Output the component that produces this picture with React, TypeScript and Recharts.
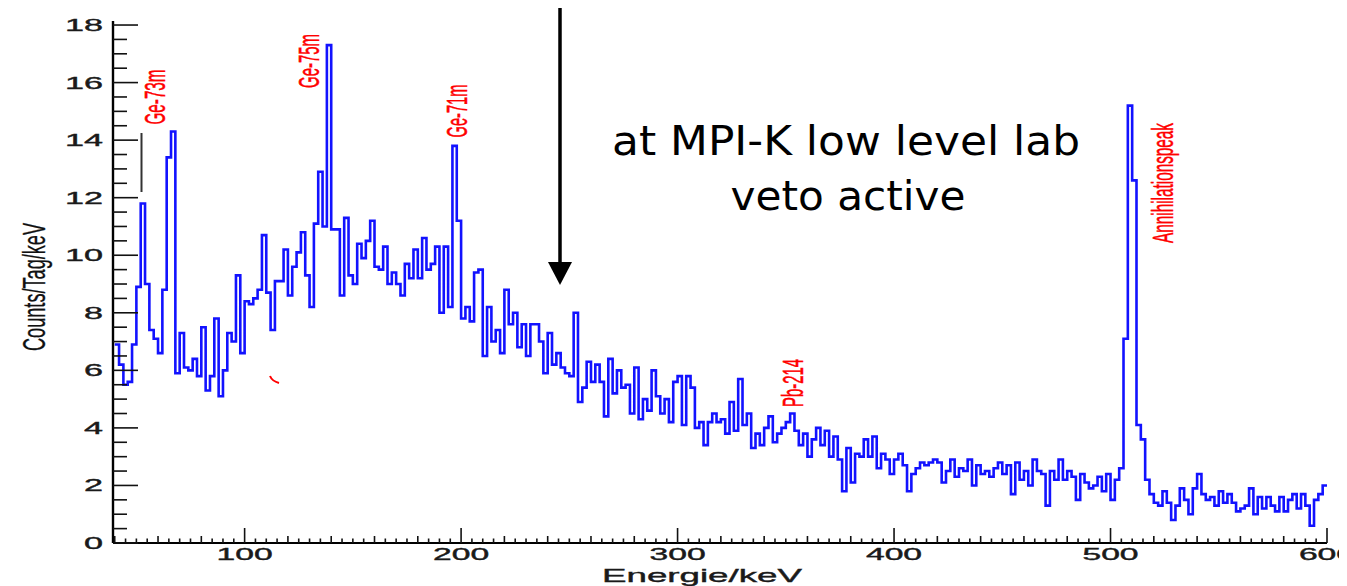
import React from "react";
import { LineChart, Line, XAxis, YAxis } from "recharts";

// Energy binning of the spectrum (keV)
const BIN_START = 40;
const BIN_WIDTH = 2;
const X_END = 600;

// Counts/Tag/keV per 2 keV bin, 40 ... 598 keV
const counts = [
  6.9, 6.2, 5.5, 5.6, 6.9, 8.9, 11.8, 9.0, 7.4, 7.1, // 40
  6.6, 8.8, 13.4, 14.3, 5.9, 7.3, 6.1, 6.0, 6.4, 5.8, // 60
  7.5, 5.3, 5.8, 7.8, 5.1, 6.0, 7.3, 7.0, 9.3, 6.6, // 80
  8.4, 8.3, 8.5, 8.8, 10.7, 8.7, 7.4, 9.1, 9.1, 10.2, // 100
  8.6, 9.6, 10.1, 10.8, 9.3, 8.2, 11.1, 12.9, 11.0, 17.3, // 120
  10.9, 10.9, 8.6, 11.3, 9.3, 9.0, 10.4, 9.9, 10.5, 11.2, // 140
  9.6, 9.5, 10.3, 9.0, 9.4, 9.0, 8.6, 9.7, 9.2, 10.2, // 160
  9.2, 10.6, 9.5, 9.7, 10.3, 8.0, 10.3, 8.2, 13.8, 11.2, // 180
  7.8, 8.2, 7.7, 9.4, 9.5, 6.5, 8.2, 7.0, 7.4, 6.6, // 200
  8.8, 7.6, 8.0, 6.8, 7.6, 6.5, 7.6, 7.6, 7.0, 5.9, // 220
  7.3, 6.2, 6.6, 6.1, 5.9, 5.8, 8.0, 4.9, 5.4, 6.3, // 240
  5.6, 6.2, 5.6, 4.4, 6.4, 5.2, 6.0, 5.4, 5.5, 4.5, // 260
  6.1, 4.3, 5.0, 4.6, 6.0, 5.1, 4.5, 5.0, 4.2, 5.6, // 280
  5.8, 4.1, 5.8, 5.4, 4.0, 4.2, 3.4, 4.2, 4.5, 4.2, // 300
  4.3, 3.8, 4.9, 3.9, 5.7, 4.1, 4.5, 3.3, 3.8, 3.4, // 320
  4.0, 4.4, 3.5, 3.8, 4.0, 4.2, 4.5, 3.9, 3.4, 3.8, // 340
  3.0, 3.6, 4.0, 3.4, 3.9, 3.0, 3.7, 2.9, 1.8, 3.3, // 360
  2.1, 3.1, 3.0, 3.6, 3.0, 3.7, 2.6, 3.1, 2.9, 2.4, // 380
  2.9, 3.1, 2.7, 1.8, 2.4, 2.6, 2.8, 2.7, 2.8, 2.9, // 400
  2.8, 2.1, 2.5, 2.9, 2.3, 2.6, 2.5, 2.9, 2.0, 2.7, // 420
  2.4, 2.5, 2.3, 2.6, 2.8, 2.4, 2.7, 1.7, 2.8, 2.2, // 440
  2.5, 2.0, 2.9, 2.5, 2.4, 1.3, 2.5, 2.2, 2.9, 2.2, // 460
  2.5, 2.3, 1.5, 2.4, 2.1, 1.9, 2.0, 2.3, 1.8, 2.4, // 480
  1.5, 2.2, 2.6, 7.1, 15.2, 12.6, 4.1, 3.6, 2.2, 1.7, // 500
  1.4, 1.3, 1.8, 1.4, 0.8, 1.3, 1.9, 1.5, 1.0, 1.9, // 520
  2.4, 1.7, 1.5, 1.6, 1.3, 1.8, 1.4, 1.7, 1.4, 1.1, // 540
  1.2, 1.3, 1.9, 1.0, 1.6, 1.2, 1.6, 1.3, 1.1, 1.6, // 560
  1.1, 1.5, 1.7, 1.2, 1.7, 1.3, 0.6, 1.5, 1.7, 2.0, // 580
];

const xMajorTicks = [100, 200, 300, 400, 500, 600];
const yMajorTicks = [0, 2, 4, 6, 8, 10, 12, 14, 16, 18];

// peak annotations (page pixel positions of the rotated red labels)
const peakLabels = [
  { text: "Ge-73m", x: 165, y: 97, len: 55 },
  { text: "Ge-75m", x: 319, y: 61, len: 54 },
  { text: "Ge-71m", x: 467, y: 111, len: 53 },
  { text: "Pb-214", x: 803, y: 383, len: 48 },
  { text: "Annihilationspeak", x: 1173, y: 183, len: 120 },
];

const spectrum = counts.map((c, i) => ({ e: BIN_START + i * BIN_WIDTH, c }));
spectrum.push({ e: X_END, c: counts[counts.length - 1] });

// ROOT style ticks: every 5 keV, medium every 20, long every 100
const xTicks: number[] = [];
for (let e = 40; e <= X_END; e += 5) xTicks.push(e);
const yTicks: number[] = [];
for (let v = 0; v <= 18; v += 0.5) yTicks.push(v);

const tickFont = "'Liberation Sans', Arial, sans-serif";

const XTick = ({ x, y, payload }: any) => {
  const v = payload.value;
  const major = xMajorTicks.includes(v);
  const len = major ? 15 : v % 20 === 0 ? 7 : 4.5;
  const label = String(v);
  return (
    <g>
      <line x1={x} x2={x} y1={y} y2={y - len} stroke="#111" strokeWidth={1.6} />
      {major && (
        <text
          x={x}
          y={y + 17}
          textAnchor="middle"
          fontFamily={tickFont}
          fontSize={17}
          fill="#1a1a1a"
          stroke="#1a1a1a"
          strokeWidth={0.4}
          textLength={label.length * 18.7}
          lengthAdjust="spacingAndGlyphs"
        >
          {label}
        </text>
      )}
    </g>
  );
};

const YTick = ({ x, y, payload }: any) => {
  const v = payload.value;
  const major = yMajorTicks.includes(v);
  const label = String(v);
  return (
    <g>
      <line x1={x} x2={x + (major ? 25 : 14)} y1={y} y2={y} stroke="#111" strokeWidth={1.6} />
      {major && (
        <text
          x={x - 10}
          y={y + 6}
          textAnchor="end"
          fontFamily={tickFont}
          fontSize={17}
          fill="#1a1a1a"
          stroke="#1a1a1a"
          strokeWidth={0.4}
          textLength={label.length * 19}
          lengthAdjust="spacingAndGlyphs"
        >
          {label}
        </text>
      )}
    </g>
  );
};

export default function App() {
  return (
    <div style={{ position: "relative", width: 1339, height: 578 }}>
      <LineChart
        width={1339}
        height={578}
        data={spectrum}
        margin={{ top: 13, right: 20, bottom: 0, left: 0 }}
      >
        <XAxis
          dataKey="e"
          type="number"
          domain={[39.2, X_END]}
          allowDataOverflow
          ticks={xTicks}
          interval={0}
          tick={<XTick />}
          tickLine={false}
          tickSize={0}
          tickMargin={0}
          height={43}
          axisLine={{ stroke: "#000", strokeWidth: 2.2 }}
        />
        <XAxis
          xAxisId="top"
          orientation="top"
          type="number"
          domain={[39.2, X_END]}
          height={0}
          tick={false}
          tickLine={false}
          axisLine={{ stroke: "#8a8a8a", strokeWidth: 1.6 }}
        />
        <YAxis
          type="number"
          domain={[0, 18.14]}
          allowDataOverflow
          ticks={yTicks}
          interval={0}
          tick={<YTick />}
          tickLine={false}
          tickSize={0}
          tickMargin={0}
          width={105}
          axisLine={{ stroke: "#000", strokeWidth: 2.4 }}
          label={{
            value: "Counts/Tag/keV",
            angle: -90,
            position: "insideLeft",
            content: () => (
              <text
                transform="translate(37,279) rotate(-90)"
                textAnchor="middle"
                fontFamily={tickFont}
                fontSize={32}
                fill="#111"
                stroke="#111"
                strokeWidth={0.3}
                textLength={128}
                lengthAdjust="spacingAndGlyphs"
              >
                Counts/Tag/keV
              </text>
            ),
          }}
        />
        <YAxis
          yAxisId="right"
          orientation="right"
          type="number"
          domain={[0, 18.14]}
          width={0}
          tick={false}
          tickLine={false}
          axisLine={{ stroke: "#000", strokeWidth: 2.6 }}
        />
        <Line
          dataKey="c"
          type="stepAfter"
          stroke="#1212ff"
          strokeWidth={2.6}
          dot={false}
          isAnimationActive={false}
        />
      </LineChart>

      <svg
        width={1347}
        height={586}
        style={{ position: "absolute", left: -8, top: -8, pointerEvents: "none" }}
      >
        <text
          x={702}
          y={582}
          textAnchor="middle"
          fontFamily={tickFont}
          fontSize={19}
          fill="#1a1a1a"
          stroke="#1a1a1a"
          strokeWidth={0.4}
          textLength={200}
          lengthAdjust="spacingAndGlyphs"
        >
          Energie/keV
        </text>

        {peakLabels.map((p) => (
          <text
            key={p.text}
            transform={`translate(${p.x},${p.y}) rotate(-90)`}
            textAnchor="middle"
            fontFamily={tickFont}
            fontSize={29}
            fill="#ff0000"
            stroke="#ff0000"
            strokeWidth={0.5}
            textLength={p.len}
            lengthAdjust="spacingAndGlyphs"
          >
            {p.text}
          </text>
        ))}

        <line x1={141.5} x2={141.5} y1={133} y2={192} stroke="#333" strokeWidth={2} />
        <path d="M270,376 Q272,381 279,383" stroke="#ff0000" strokeWidth={2} fill="none" />

        <line x1={560} x2={560} y1={0} y2={264} stroke="#000" strokeWidth={3.5} />
        <polygon points="548,262 572,262 560,285" fill="#000" />

        <text
          x={846}
          y={155}
          textAnchor="middle"
          fontFamily="'DejaVu Sans', sans-serif"
          fontSize={40}
          fill="#000"
          textLength={468}
          lengthAdjust="spacingAndGlyphs"
        >
          at MPI-K low level lab
        </text>
        <text
          x={848}
          y={210}
          textAnchor="middle"
          fontFamily="'DejaVu Sans', sans-serif"
          fontSize={40}
          fill="#000"
          textLength={235}
          lengthAdjust="spacingAndGlyphs"
        >
          veto active
        </text>
      </svg>
    </div>
  );
}
